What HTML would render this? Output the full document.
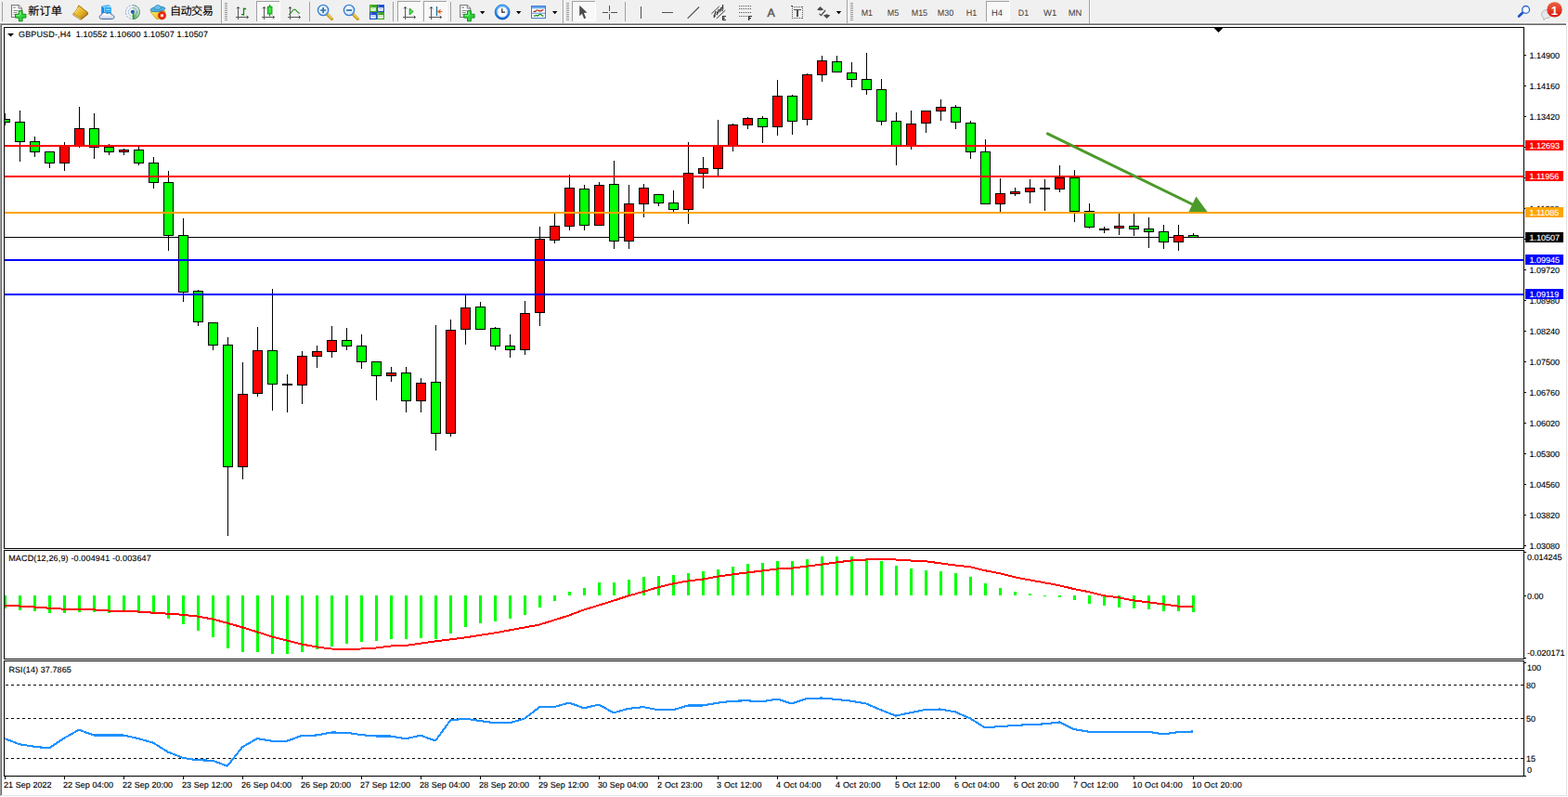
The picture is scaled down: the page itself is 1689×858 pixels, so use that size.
<!DOCTYPE html>
<html><head><meta charset="utf-8"><title>GBPUSD-,H4</title>
<style>html,body{margin:0;padding:0;background:#fff;overflow:hidden}body{width:1689px;height:858px;font-family:"Liberation Sans",sans-serif}svg{display:block}</style>
</head><body>
<svg width="1689" height="858" viewBox="0 0 1689 858" font-family="Liberation Sans, sans-serif" shape-rendering="crispEdges" text-rendering="geometricPrecision">
<rect x="0" y="0" width="1689" height="858" fill="#fff"/>
<rect x="0" y="0" width="1689" height="25" fill="#f0f0f0"/>
<rect x="0" y="24" width="1689" height="1" fill="#fafafa"/>
<rect x="0" y="25" width="1687" height="1" fill="#a0a0a0"/>
<rect x="1" y="26" width="1686" height="1" fill="#696969"/>
<rect x="0" y="26" width="1" height="831" fill="#a0a0a0"/>
<rect x="1" y="27" width="1" height="829" fill="#696969"/>
<rect x="1687" y="27" width="1" height="830" fill="#e3e3e3"/>
<rect x="2" y="856" width="1686" height="1" fill="#e3e3e3"/>
<rect x="4" y="29" width="1638" height="1" fill="#000"/>
<rect x="4" y="590" width="1638" height="1" fill="#000"/>
<rect x="4" y="29" width="1" height="562" fill="#000"/>
<rect x="1641" y="29" width="1" height="562" fill="#000"/>
<rect x="4" y="592" width="1638" height="1" fill="#000"/>
<rect x="4" y="709" width="1638" height="1" fill="#000"/>
<rect x="4" y="592" width="1" height="118" fill="#000"/>
<rect x="1641" y="592" width="1" height="118" fill="#000"/>
<rect x="4" y="711" width="1638" height="1" fill="#000"/>
<rect x="4" y="835" width="1638" height="1" fill="#000"/>
<rect x="4" y="711" width="1" height="125" fill="#000"/>
<rect x="1641" y="711" width="1" height="125" fill="#000"/>
<polygon points="1307.5,30 1317.5,30 1312.5,35" fill="#000" shape-rendering="auto"/>
<rect x="5" y="255" width="1636" height="1" fill="#000"/>
<rect x="5" y="122" width="1" height="13" fill="#000"/>
<rect x="5" y="128" width="6" height="4" fill="#000"/>
<rect x="5" y="129" width="5" height="2" fill="#00ff00"/>
<rect x="21" y="119" width="1" height="55" fill="#000"/>
<rect x="16" y="131" width="11" height="22" fill="#000"/>
<rect x="17" y="132" width="9" height="20" fill="#00ff00"/>
<rect x="37" y="147" width="1" height="22" fill="#000"/>
<rect x="32" y="152" width="11" height="12" fill="#000"/>
<rect x="33" y="153" width="9" height="10" fill="#00ff00"/>
<rect x="53" y="163" width="1" height="18" fill="#000"/>
<rect x="48" y="163" width="11" height="13" fill="#000"/>
<rect x="49" y="164" width="9" height="11" fill="#00ff00"/>
<rect x="69" y="153" width="1" height="31" fill="#000"/>
<rect x="64" y="157" width="11" height="19" fill="#000"/>
<rect x="65" y="158" width="9" height="17" fill="#ff0000"/>
<rect x="85" y="115" width="1" height="44" fill="#000"/>
<rect x="80" y="138" width="11" height="20" fill="#000"/>
<rect x="81" y="139" width="9" height="18" fill="#ff0000"/>
<rect x="101" y="122" width="1" height="49" fill="#000"/>
<rect x="96" y="138" width="11" height="21" fill="#000"/>
<rect x="97" y="139" width="9" height="19" fill="#00ff00"/>
<rect x="117" y="155" width="1" height="12" fill="#000"/>
<rect x="112" y="158" width="11" height="6" fill="#000"/>
<rect x="113" y="159" width="9" height="4" fill="#00ff00"/>
<rect x="133" y="160" width="1" height="7" fill="#000"/>
<rect x="128" y="161" width="11" height="3" fill="#000"/>
<rect x="129" y="162" width="9" height="1" fill="#ff0000"/>
<rect x="149" y="158" width="1" height="20" fill="#000"/>
<rect x="144" y="161" width="11" height="15" fill="#000"/>
<rect x="145" y="162" width="9" height="13" fill="#00ff00"/>
<rect x="165" y="169" width="1" height="34" fill="#000"/>
<rect x="160" y="175" width="11" height="22" fill="#000"/>
<rect x="161" y="176" width="9" height="20" fill="#00ff00"/>
<rect x="181" y="184" width="1" height="86" fill="#000"/>
<rect x="176" y="196" width="11" height="58" fill="#000"/>
<rect x="177" y="197" width="9" height="56" fill="#00ff00"/>
<rect x="197" y="235" width="1" height="90" fill="#000"/>
<rect x="192" y="253" width="11" height="62" fill="#000"/>
<rect x="193" y="254" width="9" height="60" fill="#00ff00"/>
<rect x="213" y="312" width="1" height="39" fill="#000"/>
<rect x="208" y="313" width="11" height="34" fill="#000"/>
<rect x="209" y="314" width="9" height="32" fill="#00ff00"/>
<rect x="229" y="347" width="1" height="30" fill="#000"/>
<rect x="224" y="347" width="11" height="25" fill="#000"/>
<rect x="225" y="348" width="9" height="23" fill="#00ff00"/>
<rect x="245" y="363" width="1" height="214" fill="#000"/>
<rect x="240" y="371" width="11" height="132" fill="#000"/>
<rect x="241" y="372" width="9" height="130" fill="#00ff00"/>
<rect x="261" y="390" width="1" height="126" fill="#000"/>
<rect x="256" y="424" width="11" height="79" fill="#000"/>
<rect x="257" y="425" width="9" height="77" fill="#ff0000"/>
<rect x="277" y="352" width="1" height="75" fill="#000"/>
<rect x="272" y="377" width="11" height="47" fill="#000"/>
<rect x="273" y="378" width="9" height="45" fill="#ff0000"/>
<rect x="293" y="311" width="1" height="131" fill="#000"/>
<rect x="288" y="377" width="11" height="37" fill="#000"/>
<rect x="289" y="378" width="9" height="35" fill="#00ff00"/>
<rect x="309" y="403" width="1" height="41" fill="#000"/>
<rect x="304" y="413" width="11" height="2" fill="#000"/>
<rect x="325" y="378" width="1" height="57" fill="#000"/>
<rect x="320" y="383" width="11" height="32" fill="#000"/>
<rect x="321" y="384" width="9" height="30" fill="#ff0000"/>
<rect x="341" y="372" width="1" height="24" fill="#000"/>
<rect x="336" y="378" width="11" height="6" fill="#000"/>
<rect x="337" y="379" width="9" height="4" fill="#ff0000"/>
<rect x="357" y="351" width="1" height="34" fill="#000"/>
<rect x="352" y="366" width="11" height="13" fill="#000"/>
<rect x="353" y="367" width="9" height="11" fill="#ff0000"/>
<rect x="373" y="353" width="1" height="24" fill="#000"/>
<rect x="368" y="366" width="11" height="7" fill="#000"/>
<rect x="369" y="367" width="9" height="5" fill="#00ff00"/>
<rect x="389" y="360" width="1" height="37" fill="#000"/>
<rect x="384" y="372" width="11" height="18" fill="#000"/>
<rect x="385" y="373" width="9" height="16" fill="#00ff00"/>
<rect x="405" y="389" width="1" height="42" fill="#000"/>
<rect x="400" y="389" width="11" height="16" fill="#000"/>
<rect x="401" y="390" width="9" height="14" fill="#00ff00"/>
<rect x="421" y="395" width="1" height="16" fill="#000"/>
<rect x="416" y="401" width="11" height="4" fill="#000"/>
<rect x="417" y="402" width="9" height="2" fill="#ff0000"/>
<rect x="437" y="395" width="1" height="49" fill="#000"/>
<rect x="432" y="401" width="11" height="31" fill="#000"/>
<rect x="433" y="402" width="9" height="29" fill="#00ff00"/>
<rect x="453" y="407" width="1" height="37" fill="#000"/>
<rect x="448" y="412" width="11" height="20" fill="#000"/>
<rect x="449" y="413" width="9" height="18" fill="#ff0000"/>
<rect x="469" y="350" width="1" height="135" fill="#000"/>
<rect x="464" y="411" width="11" height="56" fill="#000"/>
<rect x="465" y="412" width="9" height="54" fill="#00ff00"/>
<rect x="485" y="344" width="1" height="126" fill="#000"/>
<rect x="480" y="355" width="11" height="112" fill="#000"/>
<rect x="481" y="356" width="9" height="110" fill="#ff0000"/>
<rect x="501" y="318" width="1" height="53" fill="#000"/>
<rect x="496" y="331" width="11" height="24" fill="#000"/>
<rect x="497" y="332" width="9" height="22" fill="#ff0000"/>
<rect x="517" y="325" width="1" height="30" fill="#000"/>
<rect x="512" y="330" width="11" height="25" fill="#000"/>
<rect x="513" y="331" width="9" height="23" fill="#00ff00"/>
<rect x="533" y="352" width="1" height="25" fill="#000"/>
<rect x="528" y="353" width="11" height="20" fill="#000"/>
<rect x="529" y="354" width="9" height="18" fill="#00ff00"/>
<rect x="549" y="360" width="1" height="25" fill="#000"/>
<rect x="544" y="372" width="11" height="5" fill="#000"/>
<rect x="545" y="373" width="9" height="3" fill="#00ff00"/>
<rect x="565" y="324" width="1" height="58" fill="#000"/>
<rect x="560" y="337" width="11" height="40" fill="#000"/>
<rect x="561" y="338" width="9" height="38" fill="#ff0000"/>
<rect x="581" y="244" width="1" height="107" fill="#000"/>
<rect x="576" y="257" width="11" height="80" fill="#000"/>
<rect x="577" y="258" width="9" height="78" fill="#ff0000"/>
<rect x="597" y="230" width="1" height="32" fill="#000"/>
<rect x="592" y="243" width="11" height="16" fill="#000"/>
<rect x="593" y="244" width="9" height="14" fill="#ff0000"/>
<rect x="613" y="188" width="1" height="60" fill="#000"/>
<rect x="608" y="202" width="11" height="42" fill="#000"/>
<rect x="609" y="203" width="9" height="40" fill="#ff0000"/>
<rect x="629" y="199" width="1" height="49" fill="#000"/>
<rect x="624" y="203" width="11" height="40" fill="#000"/>
<rect x="625" y="204" width="9" height="38" fill="#00ff00"/>
<rect x="645" y="196" width="1" height="47" fill="#000"/>
<rect x="640" y="199" width="11" height="44" fill="#000"/>
<rect x="641" y="200" width="9" height="42" fill="#ff0000"/>
<rect x="661" y="173" width="1" height="95" fill="#000"/>
<rect x="656" y="198" width="11" height="62" fill="#000"/>
<rect x="657" y="199" width="9" height="60" fill="#00ff00"/>
<rect x="677" y="199" width="1" height="69" fill="#000"/>
<rect x="672" y="219" width="11" height="41" fill="#000"/>
<rect x="673" y="220" width="9" height="39" fill="#ff0000"/>
<rect x="693" y="198" width="1" height="36" fill="#000"/>
<rect x="688" y="202" width="11" height="18" fill="#000"/>
<rect x="689" y="203" width="9" height="16" fill="#ff0000"/>
<rect x="709" y="209" width="1" height="13" fill="#000"/>
<rect x="704" y="209" width="11" height="10" fill="#000"/>
<rect x="705" y="210" width="9" height="8" fill="#00ff00"/>
<rect x="725" y="205" width="1" height="23" fill="#000"/>
<rect x="720" y="218" width="11" height="8" fill="#000"/>
<rect x="721" y="219" width="9" height="6" fill="#00ff00"/>
<rect x="741" y="153" width="1" height="88" fill="#000"/>
<rect x="736" y="186" width="11" height="40" fill="#000"/>
<rect x="737" y="187" width="9" height="38" fill="#ff0000"/>
<rect x="757" y="169" width="1" height="34" fill="#000"/>
<rect x="752" y="181" width="11" height="6" fill="#000"/>
<rect x="753" y="182" width="9" height="4" fill="#ff0000"/>
<rect x="773" y="129" width="1" height="60" fill="#000"/>
<rect x="768" y="157" width="11" height="25" fill="#000"/>
<rect x="769" y="158" width="9" height="23" fill="#ff0000"/>
<rect x="789" y="133" width="1" height="30" fill="#000"/>
<rect x="784" y="134" width="11" height="24" fill="#000"/>
<rect x="785" y="135" width="9" height="22" fill="#ff0000"/>
<rect x="805" y="126" width="1" height="13" fill="#000"/>
<rect x="800" y="127" width="11" height="8" fill="#000"/>
<rect x="801" y="128" width="9" height="6" fill="#ff0000"/>
<rect x="821" y="125" width="1" height="29" fill="#000"/>
<rect x="816" y="127" width="11" height="10" fill="#000"/>
<rect x="817" y="128" width="9" height="8" fill="#00ff00"/>
<rect x="837" y="86" width="1" height="60" fill="#000"/>
<rect x="832" y="103" width="11" height="34" fill="#000"/>
<rect x="833" y="104" width="9" height="32" fill="#ff0000"/>
<rect x="853" y="102" width="1" height="43" fill="#000"/>
<rect x="848" y="103" width="11" height="28" fill="#000"/>
<rect x="849" y="104" width="9" height="26" fill="#00ff00"/>
<rect x="869" y="79" width="1" height="56" fill="#000"/>
<rect x="864" y="80" width="11" height="49" fill="#000"/>
<rect x="865" y="81" width="9" height="47" fill="#ff0000"/>
<rect x="885" y="60" width="1" height="28" fill="#000"/>
<rect x="880" y="65" width="11" height="16" fill="#000"/>
<rect x="881" y="66" width="9" height="14" fill="#ff0000"/>
<rect x="901" y="60" width="1" height="18" fill="#000"/>
<rect x="896" y="66" width="11" height="12" fill="#000"/>
<rect x="897" y="67" width="9" height="10" fill="#00ff00"/>
<rect x="917" y="67" width="1" height="27" fill="#000"/>
<rect x="912" y="78" width="11" height="8" fill="#000"/>
<rect x="913" y="79" width="9" height="6" fill="#00ff00"/>
<rect x="933" y="57" width="1" height="45" fill="#000"/>
<rect x="928" y="85" width="11" height="12" fill="#000"/>
<rect x="929" y="86" width="9" height="10" fill="#00ff00"/>
<rect x="949" y="85" width="1" height="50" fill="#000"/>
<rect x="944" y="96" width="11" height="35" fill="#000"/>
<rect x="945" y="97" width="9" height="33" fill="#00ff00"/>
<rect x="965" y="121" width="1" height="57" fill="#000"/>
<rect x="960" y="130" width="11" height="28" fill="#000"/>
<rect x="961" y="131" width="9" height="26" fill="#00ff00"/>
<rect x="981" y="119" width="1" height="42" fill="#000"/>
<rect x="976" y="133" width="11" height="25" fill="#000"/>
<rect x="977" y="134" width="9" height="23" fill="#ff0000"/>
<rect x="997" y="119" width="1" height="24" fill="#000"/>
<rect x="992" y="119" width="11" height="14" fill="#000"/>
<rect x="993" y="120" width="9" height="12" fill="#ff0000"/>
<rect x="1013" y="107" width="1" height="23" fill="#000"/>
<rect x="1008" y="115" width="11" height="5" fill="#000"/>
<rect x="1009" y="116" width="9" height="3" fill="#ff0000"/>
<rect x="1029" y="113" width="1" height="26" fill="#000"/>
<rect x="1024" y="115" width="11" height="17" fill="#000"/>
<rect x="1025" y="116" width="9" height="15" fill="#00ff00"/>
<rect x="1045" y="130" width="1" height="41" fill="#000"/>
<rect x="1040" y="132" width="11" height="32" fill="#000"/>
<rect x="1041" y="133" width="9" height="30" fill="#00ff00"/>
<rect x="1061" y="150" width="1" height="70" fill="#000"/>
<rect x="1056" y="163" width="11" height="57" fill="#000"/>
<rect x="1057" y="164" width="9" height="55" fill="#00ff00"/>
<rect x="1077" y="192" width="1" height="36" fill="#000"/>
<rect x="1072" y="208" width="11" height="12" fill="#000"/>
<rect x="1073" y="209" width="9" height="10" fill="#ff0000"/>
<rect x="1093" y="202" width="1" height="9" fill="#000"/>
<rect x="1088" y="206" width="11" height="3" fill="#000"/>
<rect x="1089" y="207" width="9" height="1" fill="#ff0000"/>
<rect x="1109" y="193" width="1" height="26" fill="#000"/>
<rect x="1104" y="202" width="11" height="5" fill="#000"/>
<rect x="1105" y="203" width="9" height="3" fill="#ff0000"/>
<rect x="1125" y="193" width="1" height="34" fill="#000"/>
<rect x="1120" y="202" width="11" height="2" fill="#000"/>
<rect x="1141" y="178" width="1" height="29" fill="#000"/>
<rect x="1136" y="191" width="11" height="13" fill="#000"/>
<rect x="1137" y="192" width="9" height="11" fill="#ff0000"/>
<rect x="1157" y="183" width="1" height="56" fill="#000"/>
<rect x="1152" y="191" width="11" height="37" fill="#000"/>
<rect x="1153" y="192" width="9" height="35" fill="#00ff00"/>
<rect x="1173" y="219" width="1" height="27" fill="#000"/>
<rect x="1168" y="227" width="11" height="18" fill="#000"/>
<rect x="1169" y="228" width="9" height="16" fill="#00ff00"/>
<rect x="1189" y="244" width="1" height="7" fill="#000"/>
<rect x="1184" y="246" width="11" height="2" fill="#000"/>
<rect x="1205" y="230" width="1" height="23" fill="#000"/>
<rect x="1200" y="243" width="11" height="3" fill="#000"/>
<rect x="1201" y="244" width="9" height="1" fill="#ff0000"/>
<rect x="1221" y="230" width="1" height="24" fill="#000"/>
<rect x="1216" y="243" width="11" height="4" fill="#000"/>
<rect x="1217" y="244" width="9" height="2" fill="#00ff00"/>
<rect x="1237" y="234" width="1" height="33" fill="#000"/>
<rect x="1232" y="246" width="11" height="4" fill="#000"/>
<rect x="1233" y="247" width="9" height="2" fill="#00ff00"/>
<rect x="1253" y="242" width="1" height="26" fill="#000"/>
<rect x="1248" y="249" width="11" height="12" fill="#000"/>
<rect x="1249" y="250" width="9" height="10" fill="#00ff00"/>
<rect x="1269" y="242" width="1" height="28" fill="#000"/>
<rect x="1264" y="253" width="11" height="8" fill="#000"/>
<rect x="1265" y="254" width="9" height="6" fill="#ff0000"/>
<rect x="1285" y="251" width="1" height="5" fill="#000"/>
<rect x="1280" y="253" width="11" height="3" fill="#000"/>
<rect x="1281" y="254" width="9" height="1" fill="#00ff00"/>
<rect x="5" y="156" width="1636" height="2" fill="#ff0000"/>
<rect x="5" y="189" width="1636" height="2" fill="#ff0000"/>
<g shape-rendering="auto"><line x1="1127.3" y1="143.4" x2="1285" y2="220.2" stroke="#4c9a2a" stroke-width="2.9"/><polygon points="1288.4,211.6 1280.4,228.2 1300.7,228.2" fill="#4c9a2a"/></g>
<rect x="5" y="228" width="1636" height="2" fill="#ffa500"/>
<rect x="5" y="279" width="1636" height="2" fill="#0000ff"/>
<rect x="5" y="316" width="1636" height="2" fill="#0000ff"/>
<rect x="4" y="641" width="3" height="14" fill="#00ff00"/>
<rect x="20" y="641" width="3" height="16" fill="#00ff00"/>
<rect x="36" y="641" width="3" height="17" fill="#00ff00"/>
<rect x="52" y="641" width="3" height="19" fill="#00ff00"/>
<rect x="68" y="641" width="3" height="19" fill="#00ff00"/>
<rect x="84" y="641" width="3" height="18" fill="#00ff00"/>
<rect x="100" y="641" width="3" height="18" fill="#00ff00"/>
<rect x="116" y="641" width="3" height="19" fill="#00ff00"/>
<rect x="132" y="641" width="3" height="18" fill="#00ff00"/>
<rect x="148" y="641" width="3" height="19" fill="#00ff00"/>
<rect x="164" y="641" width="3" height="20" fill="#00ff00"/>
<rect x="180" y="641" width="3" height="25" fill="#00ff00"/>
<rect x="196" y="641" width="3" height="31" fill="#00ff00"/>
<rect x="212" y="641" width="3" height="38" fill="#00ff00"/>
<rect x="228" y="641" width="3" height="45" fill="#00ff00"/>
<rect x="244" y="641" width="3" height="57" fill="#00ff00"/>
<rect x="260" y="641" width="3" height="61" fill="#00ff00"/>
<rect x="276" y="641" width="3" height="61" fill="#00ff00"/>
<rect x="292" y="641" width="3" height="63" fill="#00ff00"/>
<rect x="308" y="641" width="3" height="63" fill="#00ff00"/>
<rect x="324" y="641" width="3" height="61" fill="#00ff00"/>
<rect x="340" y="641" width="3" height="58" fill="#00ff00"/>
<rect x="356" y="641" width="3" height="55" fill="#00ff00"/>
<rect x="372" y="641" width="3" height="52" fill="#00ff00"/>
<rect x="388" y="641" width="3" height="50" fill="#00ff00"/>
<rect x="404" y="641" width="3" height="49" fill="#00ff00"/>
<rect x="420" y="641" width="3" height="47" fill="#00ff00"/>
<rect x="436" y="641" width="3" height="47" fill="#00ff00"/>
<rect x="452" y="641" width="3" height="46" fill="#00ff00"/>
<rect x="468" y="641" width="3" height="47" fill="#00ff00"/>
<rect x="484" y="641" width="3" height="41" fill="#00ff00"/>
<rect x="500" y="641" width="3" height="34" fill="#00ff00"/>
<rect x="516" y="641" width="3" height="30" fill="#00ff00"/>
<rect x="532" y="641" width="3" height="28" fill="#00ff00"/>
<rect x="548" y="641" width="3" height="25" fill="#00ff00"/>
<rect x="564" y="641" width="3" height="21" fill="#00ff00"/>
<rect x="580" y="641" width="3" height="13" fill="#00ff00"/>
<rect x="596" y="641" width="3" height="6" fill="#00ff00"/>
<rect x="612" y="637" width="3" height="4" fill="#00ff00"/>
<rect x="628" y="633" width="3" height="8" fill="#00ff00"/>
<rect x="644" y="627" width="3" height="14" fill="#00ff00"/>
<rect x="660" y="627" width="3" height="14" fill="#00ff00"/>
<rect x="676" y="624" width="3" height="17" fill="#00ff00"/>
<rect x="692" y="621" width="3" height="20" fill="#00ff00"/>
<rect x="708" y="620" width="3" height="21" fill="#00ff00"/>
<rect x="724" y="619" width="3" height="22" fill="#00ff00"/>
<rect x="740" y="617" width="3" height="24" fill="#00ff00"/>
<rect x="756" y="615" width="3" height="26" fill="#00ff00"/>
<rect x="772" y="613" width="3" height="28" fill="#00ff00"/>
<rect x="788" y="610" width="3" height="31" fill="#00ff00"/>
<rect x="804" y="607" width="3" height="34" fill="#00ff00"/>
<rect x="820" y="606" width="3" height="35" fill="#00ff00"/>
<rect x="836" y="604" width="3" height="37" fill="#00ff00"/>
<rect x="852" y="604" width="3" height="37" fill="#00ff00"/>
<rect x="868" y="602" width="3" height="39" fill="#00ff00"/>
<rect x="884" y="599" width="3" height="42" fill="#00ff00"/>
<rect x="900" y="599" width="3" height="42" fill="#00ff00"/>
<rect x="916" y="599" width="3" height="42" fill="#00ff00"/>
<rect x="932" y="601" width="3" height="40" fill="#00ff00"/>
<rect x="948" y="604" width="3" height="37" fill="#00ff00"/>
<rect x="964" y="609" width="3" height="32" fill="#00ff00"/>
<rect x="980" y="612" width="3" height="29" fill="#00ff00"/>
<rect x="996" y="614" width="3" height="27" fill="#00ff00"/>
<rect x="1012" y="615" width="3" height="26" fill="#00ff00"/>
<rect x="1028" y="617" width="3" height="24" fill="#00ff00"/>
<rect x="1044" y="621" width="3" height="20" fill="#00ff00"/>
<rect x="1060" y="628" width="3" height="13" fill="#00ff00"/>
<rect x="1076" y="633" width="3" height="8" fill="#00ff00"/>
<rect x="1092" y="637" width="3" height="4" fill="#00ff00"/>
<rect x="1108" y="639" width="3" height="2" fill="#00ff00"/>
<rect x="1124" y="641" width="3" height="1" fill="#00ff00"/>
<rect x="1140" y="641" width="3" height="2" fill="#00ff00"/>
<rect x="1156" y="641" width="3" height="5" fill="#00ff00"/>
<rect x="1172" y="641" width="3" height="9" fill="#00ff00"/>
<rect x="1188" y="641" width="3" height="11" fill="#00ff00"/>
<rect x="1204" y="641" width="3" height="13" fill="#00ff00"/>
<rect x="1220" y="641" width="3" height="14" fill="#00ff00"/>
<rect x="1236" y="641" width="3" height="15" fill="#00ff00"/>
<rect x="1252" y="641" width="3" height="17" fill="#00ff00"/>
<rect x="1268" y="641" width="3" height="17" fill="#00ff00"/>
<rect x="1284" y="641" width="3" height="18" fill="#00ff00"/>
<polyline points="5,652.0 21,652.5 37,653.5 53,654.7 69,655.7 85,656.0 101,656.4 117,657.5 133,658.0 149,658.5 165,659.7 181,660.7 197,661.8 213,663.6 229,666.5 245,670.8 261,675.3 277,680.3 293,685.5 309,689.5 325,693.5 341,696.4 357,698.5 373,698.9 389,698.5 405,697.5 421,695.5 437,694.9 453,692.6 469,690.4 485,688.4 501,686.4 517,683.8 533,681.4 549,678.4 565,675.5 581,672.5 597,667.5 613,662.5 629,656.5 645,651.6 661,646.6 677,641.4 693,636.9 709,632.2 725,628.4 741,625.5 757,623.6 773,620.6 789,618.4 805,616.4 821,614.5 837,612.5 853,611.6 869,609.6 885,607.6 901,605.4 917,603.5 933,602.5 949,602.1 965,602.5 981,603.5 997,604.2 1013,606.4 1029,608.5 1045,610.3 1061,614.2 1077,617.3 1093,621.3 1109,624.4 1125,627.3 1141,630.2 1157,634.1 1173,637.2 1189,641.2 1205,643.3 1221,646.4 1237,648.3 1253,650.4 1269,652.6 1285,652.7" fill="none" stroke="#ff0000" stroke-width="2" stroke-linejoin="bevel"/>
<line x1="6" y1="737.5" x2="1641" y2="737.5" stroke="#000" stroke-width="1" stroke-dasharray="3 3"/>
<line x1="6" y1="773.5" x2="1641" y2="773.5" stroke="#000" stroke-width="1" stroke-dasharray="3 3"/>
<line x1="6" y1="816.5" x2="1641" y2="816.5" stroke="#000" stroke-width="1" stroke-dasharray="3 3"/>
<polyline points="5,795.1 21,801.2 37,803.8 53,805.4 69,794.7 85,785.7 101,791.5 117,791.5 133,791.5 149,795.1 165,799.6 181,809.6 197,815.9 213,818.3 229,818.7 245,824.7 261,804.2 277,795.1 293,797.8 309,797.8 325,791.9 341,791.5 357,788.5 373,788.7 389,791.1 405,792.5 421,792.5 437,795.3 453,791.7 469,797.5 485,775.6 501,773.6 517,776.0 533,778.2 549,778.2 565,773.6 581,761.3 597,761.1 613,756.5 629,762.3 645,758.6 661,767.3 677,762.9 693,761.1 709,764.3 725,764.3 741,759.5 757,759.5 773,756.7 789,754.7 805,754.3 821,755.3 837,752.5 853,757.5 869,751.9 885,751.5 901,752.9 917,754.7 933,757.5 949,764.3 965,770.6 981,767.2 997,763.9 1013,763.5 1029,766.4 1045,773.4 1061,783.3 1077,782.1 1093,781.0 1109,780.0 1125,779.4 1141,777.4 1157,785.1 1173,787.7 1189,787.7 1205,787.7 1221,787.7 1237,787.7 1253,790.5 1269,788.1 1285,787.5" fill="none" stroke="#1e90ff" stroke-width="2.1" stroke-linejoin="bevel"/>
<rect x="4" y="29" width="1" height="562" fill="#000"/>
<rect x="1641" y="29" width="1" height="562" fill="#000"/>
<rect x="1641" y="592" width="1" height="118" fill="#000"/>
<rect x="1641" y="711" width="1" height="125" fill="#000"/>
<rect x="4" y="592" width="1" height="118" fill="#000"/>
<rect x="4" y="711" width="1" height="125" fill="#000"/>
<rect x="1642" y="59" width="2" height="1" fill="#000"/>
<text x="1647.6" y="62.65" font-size="9" fill="#000" stroke="#000" stroke-width="0.13" text-anchor="start">1.14900</text>
<rect x="1642" y="92" width="2" height="1" fill="#000"/>
<text x="1647.6" y="95.65" font-size="9" fill="#000" stroke="#000" stroke-width="0.13" text-anchor="start">1.14160</text>
<rect x="1642" y="125" width="2" height="1" fill="#000"/>
<text x="1647.6" y="128.65" font-size="9" fill="#000" stroke="#000" stroke-width="0.13" text-anchor="start">1.13420</text>
<rect x="1642" y="158" width="2" height="1" fill="#000"/>
<rect x="1642" y="191" width="2" height="1" fill="#000"/>
<rect x="1642" y="224" width="2" height="1" fill="#000"/>
<text x="1647.6" y="227.65" font-size="9" fill="#000" stroke="#000" stroke-width="0.13" text-anchor="start">1.11200</text>
<rect x="1642" y="257" width="2" height="1" fill="#000"/>
<rect x="1642" y="290" width="2" height="1" fill="#000"/>
<text x="1647.6" y="293.65" font-size="9" fill="#000" stroke="#000" stroke-width="0.13" text-anchor="start">1.09720</text>
<rect x="1642" y="323" width="2" height="1" fill="#000"/>
<text x="1647.6" y="326.65" font-size="9" fill="#000" stroke="#000" stroke-width="0.13" text-anchor="start">1.08980</text>
<rect x="1642" y="356" width="2" height="1" fill="#000"/>
<text x="1647.6" y="359.65" font-size="9" fill="#000" stroke="#000" stroke-width="0.13" text-anchor="start">1.08240</text>
<rect x="1642" y="389" width="2" height="1" fill="#000"/>
<text x="1647.6" y="392.65" font-size="9" fill="#000" stroke="#000" stroke-width="0.13" text-anchor="start">1.07500</text>
<rect x="1642" y="422" width="2" height="1" fill="#000"/>
<text x="1647.6" y="425.65" font-size="9" fill="#000" stroke="#000" stroke-width="0.13" text-anchor="start">1.06760</text>
<rect x="1642" y="455" width="2" height="1" fill="#000"/>
<text x="1647.6" y="458.65" font-size="9" fill="#000" stroke="#000" stroke-width="0.13" text-anchor="start">1.06020</text>
<rect x="1642" y="488" width="2" height="1" fill="#000"/>
<text x="1647.6" y="491.65" font-size="9" fill="#000" stroke="#000" stroke-width="0.13" text-anchor="start">1.05300</text>
<rect x="1642" y="521" width="2" height="1" fill="#000"/>
<text x="1647.6" y="524.65" font-size="9" fill="#000" stroke="#000" stroke-width="0.13" text-anchor="start">1.04560</text>
<rect x="1642" y="554" width="2" height="1" fill="#000"/>
<text x="1647.6" y="557.65" font-size="9" fill="#000" stroke="#000" stroke-width="0.13" text-anchor="start">1.03820</text>
<rect x="1642" y="587" width="2" height="1" fill="#000"/>
<text x="1647.6" y="590.65" font-size="9" fill="#000" stroke="#000" stroke-width="0.13" text-anchor="start">1.03080</text>
<rect x="1642" y="594" width="2" height="1" fill="#000"/>
<rect x="1642" y="641" width="2" height="1" fill="#000"/>
<rect x="1642" y="708" width="2" height="1" fill="#000"/>
<rect x="1642" y="713" width="2" height="1" fill="#000"/>
<rect x="1642" y="835" width="2" height="1" fill="#000"/>
<text x="1645" y="602.65" font-size="9" fill="#000" stroke="#000" stroke-width="0.13" text-anchor="start">0.014245</text>
<text x="1645" y="644.65" font-size="9" fill="#000" stroke="#000" stroke-width="0.13" text-anchor="start">0.00</text>
<text x="1645" y="705.65" font-size="9" fill="#000" stroke="#000" stroke-width="0.13" text-anchor="start">-0.020171</text>
<text x="1645" y="721.65" font-size="9" fill="#000" stroke="#000" stroke-width="0.13" text-anchor="start">100</text>
<text x="1644" y="740.65" font-size="9" fill="#000" stroke="#000" stroke-width="0.13" text-anchor="start">80</text>
<text x="1644" y="776.65" font-size="9" fill="#000" stroke="#000" stroke-width="0.13" text-anchor="start">50</text>
<text x="1644" y="819.65" font-size="9" fill="#000" stroke="#000" stroke-width="0.13" text-anchor="start">15</text>
<text x="1645" y="831.65" font-size="9" fill="#000" stroke="#000" stroke-width="0.13" text-anchor="start">0</text>
<rect x="1643" y="151" width="41" height="11" fill="#ff0000"/>
<text x="1647.4" y="159.65" font-size="9" fill="#fff" stroke="#fff" stroke-width="0.12" text-anchor="start">1.12693</text>
<rect x="1643" y="184" width="41" height="11" fill="#ff0000"/>
<text x="1647.4" y="192.65" font-size="9" fill="#fff" stroke="#fff" stroke-width="0.12" text-anchor="start">1.11956</text>
<rect x="1643" y="223" width="41" height="11" fill="#ffa500"/>
<text x="1647.4" y="231.65" font-size="9" fill="#fff" stroke="#fff" stroke-width="0.12" text-anchor="start">1.11085</text>
<rect x="1643" y="250" width="41" height="11" fill="#000"/>
<text x="1647.4" y="258.65" font-size="9" fill="#fff" stroke="#fff" stroke-width="0.12" text-anchor="start">1.10507</text>
<rect x="1643" y="274" width="41" height="11" fill="#0000ff"/>
<text x="1647.4" y="282.65" font-size="9" fill="#fff" stroke="#fff" stroke-width="0.12" text-anchor="start">1.09945</text>
<rect x="1643" y="311" width="41" height="11" fill="#0000ff"/>
<text x="1647.4" y="319.65" font-size="9" fill="#fff" stroke="#fff" stroke-width="0.12" text-anchor="start">1.09119</text>
<rect x="5" y="836" width="1" height="3" fill="#000"/>
<text x="4" y="847.65" font-size="9" fill="#000" stroke="#000" stroke-width="0.13" text-anchor="start" letter-spacing="0.05">21 Sep 2022</text>
<rect x="69" y="836" width="1" height="3" fill="#000"/>
<text x="68" y="847.65" font-size="9" fill="#000" stroke="#000" stroke-width="0.13" text-anchor="start" letter-spacing="0.05">22 Sep 04:00</text>
<rect x="133" y="836" width="1" height="3" fill="#000"/>
<text x="132" y="847.65" font-size="9" fill="#000" stroke="#000" stroke-width="0.13" text-anchor="start" letter-spacing="0.05">22 Sep 20:00</text>
<rect x="197" y="836" width="1" height="3" fill="#000"/>
<text x="196" y="847.65" font-size="9" fill="#000" stroke="#000" stroke-width="0.13" text-anchor="start" letter-spacing="0.05">23 Sep 12:00</text>
<rect x="261" y="836" width="1" height="3" fill="#000"/>
<text x="260" y="847.65" font-size="9" fill="#000" stroke="#000" stroke-width="0.13" text-anchor="start" letter-spacing="0.05">26 Sep 04:00</text>
<rect x="325" y="836" width="1" height="3" fill="#000"/>
<text x="324" y="847.65" font-size="9" fill="#000" stroke="#000" stroke-width="0.13" text-anchor="start" letter-spacing="0.05">26 Sep 20:00</text>
<rect x="389" y="836" width="1" height="3" fill="#000"/>
<text x="388" y="847.65" font-size="9" fill="#000" stroke="#000" stroke-width="0.13" text-anchor="start" letter-spacing="0.05">27 Sep 12:00</text>
<rect x="453" y="836" width="1" height="3" fill="#000"/>
<text x="452" y="847.65" font-size="9" fill="#000" stroke="#000" stroke-width="0.13" text-anchor="start" letter-spacing="0.05">28 Sep 04:00</text>
<rect x="517" y="836" width="1" height="3" fill="#000"/>
<text x="516" y="847.65" font-size="9" fill="#000" stroke="#000" stroke-width="0.13" text-anchor="start" letter-spacing="0.05">28 Sep 20:00</text>
<rect x="581" y="836" width="1" height="3" fill="#000"/>
<text x="580" y="847.65" font-size="9" fill="#000" stroke="#000" stroke-width="0.13" text-anchor="start" letter-spacing="0.05">29 Sep 12:00</text>
<rect x="645" y="836" width="1" height="3" fill="#000"/>
<text x="644" y="847.65" font-size="9" fill="#000" stroke="#000" stroke-width="0.13" text-anchor="start" letter-spacing="0.05">30 Sep 04:00</text>
<rect x="709" y="836" width="1" height="3" fill="#000"/>
<text x="708" y="847.65" font-size="9" fill="#000" stroke="#000" stroke-width="0.13" text-anchor="start" letter-spacing="0.2">2 Oct 23:00</text>
<rect x="773" y="836" width="1" height="3" fill="#000"/>
<text x="772" y="847.65" font-size="9" fill="#000" stroke="#000" stroke-width="0.13" text-anchor="start" letter-spacing="0.2">3 Oct 12:00</text>
<rect x="837" y="836" width="1" height="3" fill="#000"/>
<text x="836" y="847.65" font-size="9" fill="#000" stroke="#000" stroke-width="0.13" text-anchor="start" letter-spacing="0.2">4 Oct 04:00</text>
<rect x="901" y="836" width="1" height="3" fill="#000"/>
<text x="900" y="847.65" font-size="9" fill="#000" stroke="#000" stroke-width="0.13" text-anchor="start" letter-spacing="0.2">4 Oct 20:00</text>
<rect x="965" y="836" width="1" height="3" fill="#000"/>
<text x="964" y="847.65" font-size="9" fill="#000" stroke="#000" stroke-width="0.13" text-anchor="start" letter-spacing="0.2">5 Oct 12:00</text>
<rect x="1029" y="836" width="1" height="3" fill="#000"/>
<text x="1028" y="847.65" font-size="9" fill="#000" stroke="#000" stroke-width="0.13" text-anchor="start" letter-spacing="0.2">6 Oct 04:00</text>
<rect x="1093" y="836" width="1" height="3" fill="#000"/>
<text x="1092" y="847.65" font-size="9" fill="#000" stroke="#000" stroke-width="0.13" text-anchor="start" letter-spacing="0.2">6 Oct 20:00</text>
<rect x="1157" y="836" width="1" height="3" fill="#000"/>
<text x="1156" y="847.65" font-size="9" fill="#000" stroke="#000" stroke-width="0.13" text-anchor="start" letter-spacing="0.2">7 Oct 12:00</text>
<rect x="1221" y="836" width="1" height="3" fill="#000"/>
<text x="1220" y="847.65" font-size="9" fill="#000" stroke="#000" stroke-width="0.13" text-anchor="start" letter-spacing="0.2">10 Oct 04:00</text>
<rect x="1285" y="836" width="1" height="3" fill="#000"/>
<text x="1284" y="847.65" font-size="9" fill="#000" stroke="#000" stroke-width="0.13" text-anchor="start" letter-spacing="0.2">10 Oct 20:00</text>
<polygon points="8,36 15,36 11.5,39.5" fill="#000" shape-rendering="auto"/>
<text x="20" y="40.45" font-size="9" fill="#000" stroke="#000" stroke-width="0.13" text-anchor="start" textLength="204">GBPUSD-,H4&#160; 1.10552 1.10600 1.10507 1.10507</text>
<text x="9.2" y="604.25" font-size="9" fill="#000" stroke="#000" stroke-width="0.13" text-anchor="start" textLength="153.6">MACD(12,26,9) -0.004941 -0.003647</text>
<text x="9.4" y="723.65" font-size="9" fill="#000" stroke="#000" stroke-width="0.13" text-anchor="start" textLength="67.4">RSI(14) 37.7865</text>
<defs><linearGradient id="gold" x1="0" y1="0" x2="1" y2="1"><stop offset="0" stop-color="#fbe36a"/><stop offset="0.5" stop-color="#e9b92a"/><stop offset="1" stop-color="#b97c14"/></linearGradient><linearGradient id="badge" x1="0" y1="0" x2="0" y2="1"><stop offset="0" stop-color="#ec6240"/><stop offset="1" stop-color="#d61a0c"/></linearGradient><linearGradient id="blu" x1="0" y1="0" x2="0" y2="1"><stop offset="0" stop-color="#5fb4ff"/><stop offset="1" stop-color="#1268d8"/></linearGradient><radialGradient id="lens" cx="0.4" cy="0.35" r="0.7"><stop offset="0" stop-color="#ffffff"/><stop offset="1" stop-color="#bfe0fb"/></radialGradient></defs>
<g shape-rendering="auto">
<g shape-rendering="crispEdges"><rect x="2" y="2" width="1" height="21" fill="#a0a0a0"/></g>
<g transform="translate(0,0)"><path d="M12.5 5.500h7.500l3.500 3.500v9.500h-11z" fill="#fdfdfd" stroke="#767676" stroke-width="1.100"/><path d="M20 5.500v3.500h3.500" fill="#f4f4f4" stroke="#767676"/><path d="M14.300 8h2.400" stroke="#8a8a8a" stroke-width="1.400" fill="none"/><path d="M14.500 11.500h5M14.500 13.500h4M14.500 15.500h1.500" stroke="#8a8a8a" fill="none"/><path d="M20.3 11.6h3.8v3.700h3.8v3.800h-3.8v3.700h-3.8v-3.700h-3.8v-3.800h3.800z" fill="#2fd63a" stroke="#128a1a" stroke-width="1"/><path d="M21.2 12.6h1.2v3.600h-1.200zM17.400 16.200h3.800v1h-3.800z" fill="#9cf29f"/></g>
<text x="30.3" y="16.4" font-size="12.2" font-family="Liberation Sans, Noto Sans CJK SC, sans-serif" fill="#000" stroke="#000" stroke-width="0.11" textLength="36.75" lengthAdjust="spacing">新订单</text>
<path d="M84.9 6.1L94.4 13.7V15.2L87 21L79.1 16V14.6C81.5 13 83.6 9.600 84.9 6.100Z" fill="#d9b25a" stroke="#a06a0c" stroke-width="1.100" stroke-linejoin="round"/><path d="M79.1 14.600L87 19.600V21L79.100 16Z" fill="#f3dc96"/><path d="M84.9 6.100L94.400 13.700L87 19.600L79.100 14.600C81.500 13 83.600 9.600 84.900 6.100Z" fill="url(#gold)" stroke="#b07a14" stroke-width="0.700" stroke-linejoin="round"/><path d="M84.300 8.400c-.8 2-2.200 4.200-3.800 5.600" stroke="#fff4b0" stroke-width="0.900" fill="none" opacity="0.800"/>
<polygon points="109.2,6.2 112.7,7.8 112.7,15.4 109.2,14.4" fill="#0b8df0"/><polygon points="109.2,6.2 116.4,5.1 119.8,6.5 112.7,7.8" fill="#59bbff"/><rect x="112.700" y="7.700" width="7.100" height="8" fill="#16a6ff"/><path d="M109.400 6.400L112.700 7.900V15" stroke="#d6efff" stroke-width="0.600" fill="none"/><rect x="114.200" y="9.700" width="4.400" height="0.900" fill="#e8f7ff"/><rect x="113.600" y="12" width="5.400" height="0.600" fill="#7fd0ff"/><linearGradient id="cld" x1="0" y1="0" x2="0" y2="1"><stop offset="0.250" stop-color="#ffffff"/><stop offset="1" stop-color="#bccae2"/></linearGradient><path d="M109.600 20.500C106.300 20.500 106.300 16.300 109.400 16.100C109.600 13.300 113.600 12.700 115.100 14.700C116.800 13.200 120 13.900 120.200 16C123.700 15.800 124 20.500 120.600 20.500Z" fill="url(#cld)" stroke="#3d5c9c" stroke-width="0.900"/>
<linearGradient id="swp" x1="0" y1="1" x2="0.300" y2="0"><stop offset="0" stop-color="#2fa52f" stop-opacity="0.950"/><stop offset="0.550" stop-color="#8cc88c" stop-opacity="0.700"/><stop offset="1" stop-color="#c8e0c8" stop-opacity="0.350"/></linearGradient><circle cx="143" cy="13" r="8" fill="#f6f6f2"/><path d="M143 13V21A8 8 0 0 0 143 5Z" fill="url(#swp)"/><circle cx="143" cy="13" r="7.500" fill="none" stroke="#4a74d6" stroke-width="0.900" stroke-dasharray="2.200 1.200" opacity="0.750"/><circle cx="143" cy="13" r="4.700" fill="none" stroke="#4a74d6" stroke-width="0.900" stroke-dasharray="2 1" opacity="0.700"/><path d="M143 5.500A7.500 7.500 0 0 1 143 20.500" fill="none" stroke="#4f9a6a" stroke-width="0.900" opacity="0.700"/><circle cx="142.800" cy="12.700" r="2" fill="#2452c8"/><path d="M143.500 13.400V20.900" stroke="#17a017" stroke-width="1.400"/>
<linearGradient id="ylw" x1="0" y1="0" x2="1" y2="1"><stop offset="0" stop-color="#ffe95e"/><stop offset="1" stop-color="#e6b41c"/></linearGradient><polygon points="162,12.600 177.900,11.800 177.600,14.600 170.600,20.700 168.300,20.400" fill="url(#ylw)" stroke="#c8980f" stroke-width="0.700"/><ellipse cx="170" cy="9.900" rx="7.900" ry="2.700" transform="rotate(-6 170 9.900)" fill="#58b0e6" stroke="#1f7fa8" stroke-width="0.800"/><path d="M166 9.600C166 4.400 173.600 4.200 173.600 9.200C171.500 10.600 168 10.800 166 9.600Z" fill="#6cc0ee" stroke="#1f7fa8" stroke-width="0.700"/><circle cx="174.500" cy="16.700" r="4.200" fill="#e62a0a" stroke="#b4180a" stroke-width="0.500"/><rect x="173.100" y="15.300" width="2.800" height="2.800" fill="#fff"/>
<text x="182.9" y="16.4" font-size="12.2" font-family="Liberation Sans, Noto Sans CJK SC, sans-serif" fill="#000" stroke="#000" stroke-width="0.11" textLength="47" lengthAdjust="spacing">自动交易</text>
<g shape-rendering="crispEdges"><rect x="238" y="0" width="1" height="25" fill="#a0a0a0"/><rect x="239" y="0" width="1" height="25" fill="#fff"/></g>
<g shape-rendering="crispEdges"><rect x="242" y="3" width="3" height="1" fill="#9a9a9a"/><rect x="242" y="5" width="3" height="1" fill="#9a9a9a"/><rect x="242" y="7" width="3" height="1" fill="#9a9a9a"/><rect x="242" y="9" width="3" height="1" fill="#9a9a9a"/><rect x="242" y="11" width="3" height="1" fill="#9a9a9a"/><rect x="242" y="13" width="3" height="1" fill="#9a9a9a"/><rect x="242" y="15" width="3" height="1" fill="#9a9a9a"/><rect x="242" y="17" width="3" height="1" fill="#9a9a9a"/><rect x="242" y="19" width="3" height="1" fill="#9a9a9a"/><rect x="242" y="21" width="3" height="1" fill="#9a9a9a"/></g>
<g shape-rendering="crispEdges"><rect x="256" y="7" width="1" height="14" fill="#585858"/><rect x="254" y="18" width="14" height="1" fill="#585858"/><rect x="255" y="8" width="3" height="1" fill="#585858"/><rect x="266" y="17" width="1" height="3" fill="#585858"/><rect x="254" y="9" width="1" height="1" fill="#c8c8c8"/><rect x="258" y="9" width="1" height="1" fill="#c8c8c8"/><rect x="265" y="16" width="1" height="1" fill="#c8c8c8"/><rect x="265" y="20" width="1" height="1" fill="#c8c8c8"/></g>
<path d="M262.5 8.6v8.2M262.5 9.5h2.6M260 15.6h2.5" stroke="#0a8a0a" stroke-width="1.3" fill="none"/>
<g shape-rendering="crispEdges"><rect x="276" y="1" width="26" height="22" fill="#f8f8f8"/><rect x="276" y="1" width="25" height="1" fill="#a0a0a0"/><rect x="276" y="1" width="1" height="22" fill="#a0a0a0"/><rect x="277" y="22" width="25" height="1" fill="#fff"/><rect x="301" y="1" width="1" height="22" fill="#fff"/></g>
<g shape-rendering="crispEdges"><rect x="284" y="7" width="1" height="14" fill="#585858"/><rect x="282" y="18" width="14" height="1" fill="#585858"/><rect x="283" y="8" width="3" height="1" fill="#585858"/><rect x="294" y="17" width="1" height="3" fill="#585858"/><rect x="282" y="9" width="1" height="1" fill="#c8c8c8"/><rect x="286" y="9" width="1" height="1" fill="#c8c8c8"/><rect x="293" y="16" width="1" height="1" fill="#c8c8c8"/><rect x="293" y="20" width="1" height="1" fill="#c8c8c8"/></g>
<path d="M290.6 5v12.4" stroke="#0a9a0a" stroke-width="1.2"/><rect x="288.4" y="7.2" width="4.5" height="7.7" fill="#3fe24a" stroke="#0a9a0a" stroke-width="1"/>
<g shape-rendering="crispEdges"><rect x="312" y="7" width="1" height="14" fill="#585858"/><rect x="310" y="18" width="14" height="1" fill="#585858"/><rect x="311" y="8" width="3" height="1" fill="#585858"/><rect x="322" y="17" width="1" height="3" fill="#585858"/><rect x="310" y="9" width="1" height="1" fill="#c8c8c8"/><rect x="314" y="9" width="1" height="1" fill="#c8c8c8"/><rect x="321" y="16" width="1" height="1" fill="#c8c8c8"/><rect x="321" y="20" width="1" height="1" fill="#c8c8c8"/></g>
<path d="M311.2 15.8c2.6-1.2 4-5.6 6-5.6s3 3.400 5.600 4.200" fill="none" stroke="#2a9a2a" stroke-width="1.2"/>
<g shape-rendering="crispEdges"><rect x="333" y="2" width="1" height="21" fill="#a0a0a0"/></g>
<path d="M352.1 15l5.3 5.3" stroke="#c99a1a" stroke-width="3.2" stroke-linecap="round"/><path d="M352.40000000000003 14.7l5 5" stroke="#f3d860" stroke-width="1.2" stroke-linecap="round"/><circle cx="348.1" cy="11" r="5.6" fill="url(#lens)" stroke="#3b7fd3" stroke-width="1.4"/><path d="M345.1 11h6M348.1 8v6" stroke="#2f6fae" stroke-width="1.7" fill="none"/>
<path d="M380 15l5.3 5.3" stroke="#c99a1a" stroke-width="3.2" stroke-linecap="round"/><path d="M380.3 14.7l5 5" stroke="#f3d860" stroke-width="1.2" stroke-linecap="round"/><circle cx="376" cy="11" r="5.6" fill="url(#lens)" stroke="#3b7fd3" stroke-width="1.4"/><path d="M373 11h6" stroke="#2f6fae" stroke-width="1.7" fill="none"/>
<rect x="398" y="5" width="8" height="8" fill="#3fa51f"/><rect x="399.2" y="8.2" width="5.6" height="3.6" fill="#ffffff"/><rect x="400" y="9.3" width="4" height="0.9" fill="#3fa51f" opacity="0.45"/><rect x="399.2" y="6.2" width="1" height="1" fill="#fff" opacity="0.8"/>
<rect x="406" y="5" width="8" height="8" fill="#1f4fd0"/><rect x="407.2" y="8.2" width="5.6" height="3.6" fill="#ffffff"/><rect x="408" y="9.3" width="4" height="0.9" fill="#1f4fd0" opacity="0.45"/><rect x="407.2" y="6.2" width="1" height="1" fill="#fff" opacity="0.8"/>
<rect x="398" y="13" width="8" height="8" fill="#1f4fd0"/><rect x="399.2" y="16.2" width="5.6" height="3.6" fill="#ffffff"/><rect x="400" y="17.3" width="4" height="0.9" fill="#1f4fd0" opacity="0.45"/><rect x="399.2" y="14.2" width="1" height="1" fill="#fff" opacity="0.8"/>
<rect x="406" y="13" width="8" height="8" fill="#3fa51f"/><rect x="407.2" y="16.2" width="5.6" height="3.6" fill="#ffffff"/><rect x="408" y="17.3" width="4" height="0.9" fill="#3fa51f" opacity="0.45"/><rect x="407.2" y="14.2" width="1" height="1" fill="#fff" opacity="0.8"/>
<g shape-rendering="crispEdges"><rect x="423" y="2" width="1" height="21" fill="#a0a0a0"/></g>
<g shape-rendering="crispEdges"><rect x="428" y="1" width="26" height="22" fill="#f8f8f8"/><rect x="428" y="1" width="25" height="1" fill="#a0a0a0"/><rect x="428" y="1" width="1" height="22" fill="#a0a0a0"/><rect x="429" y="22" width="25" height="1" fill="#fff"/><rect x="453" y="1" width="1" height="22" fill="#fff"/></g>
<g shape-rendering="crispEdges"><rect x="436" y="7" width="1" height="14" fill="#585858"/><rect x="434" y="18" width="14" height="1" fill="#585858"/><rect x="435" y="8" width="3" height="1" fill="#585858"/><rect x="446" y="17" width="1" height="3" fill="#585858"/><rect x="434" y="9" width="1" height="1" fill="#c8c8c8"/><rect x="438" y="9" width="1" height="1" fill="#c8c8c8"/><rect x="445" y="16" width="1" height="1" fill="#c8c8c8"/><rect x="445" y="20" width="1" height="1" fill="#c8c8c8"/></g>
<polygon points="441.2,9 445.2,12.5 441.2,16" fill="#5fe05f" stroke="#0a9a0a" stroke-width="0.9"/>
<g shape-rendering="crispEdges"><rect x="456" y="1" width="26" height="22" fill="#f8f8f8"/><rect x="456" y="1" width="25" height="1" fill="#a0a0a0"/><rect x="456" y="1" width="1" height="22" fill="#a0a0a0"/><rect x="457" y="22" width="25" height="1" fill="#fff"/><rect x="481" y="1" width="1" height="22" fill="#fff"/></g>
<g shape-rendering="crispEdges"><rect x="464" y="7" width="1" height="14" fill="#585858"/><rect x="462" y="18" width="14" height="1" fill="#585858"/><rect x="463" y="8" width="3" height="1" fill="#585858"/><rect x="474" y="17" width="1" height="3" fill="#585858"/><rect x="462" y="9" width="1" height="1" fill="#c8c8c8"/><rect x="466" y="9" width="1" height="1" fill="#c8c8c8"/><rect x="473" y="16" width="1" height="1" fill="#c8c8c8"/><rect x="473" y="20" width="1" height="1" fill="#c8c8c8"/></g>
<path d="M470.5 7v10" stroke="#1a6fa8" stroke-width="1.3"/><path d="M472 12.5h4.300M474.600 10.4l-2.6 2.100l2.600 2.100" stroke="#e05a0a" stroke-width="1.200" fill="none"/>
<g shape-rendering="crispEdges"><rect x="485" y="2" width="1" height="21" fill="#a0a0a0"/></g>
<g transform="translate(483.2,0)"><path d="M12.5 5.500h7.500l3.500 3.500v9.500h-11z" fill="#fdfdfd" stroke="#767676" stroke-width="1.100"/><path d="M20 5.500v3.500h3.500" fill="#f4f4f4" stroke="#767676"/><path d="M14.300 8h2.400" stroke="#8a8a8a" stroke-width="1.400" fill="none"/><path d="M14.500 11.500h5M14.500 13.500h4M14.500 15.500h1.500" stroke="#8a8a8a" fill="none"/><path d="M20.3 11.6h3.8v3.700h3.8v3.800h-3.8v3.700h-3.8v-3.700h-3.8v-3.800h3.800z" fill="#2fd63a" stroke="#128a1a" stroke-width="1"/><path d="M21.2 12.6h1.2v3.600h-1.200zM17.400 16.200h3.800v1h-3.800z" fill="#9cf29f"/></g>
<polygon points="517,12 522.4,12 519.7,15.2" fill="#000"/>
<circle cx="541.1" cy="13" r="6.9" fill="#fdfdff" stroke="url(#blu)" stroke-width="2.5"/><circle cx="541.1" cy="13" r="8" fill="none" stroke="#0d57b8" stroke-width="0.6"/><path d="M540.8 9.2v4h3.200" fill="none" stroke="#222" stroke-width="1.2"/><path d="M541.100 7.700v.8M541.100 17.500v.8M536 13h.8M545.400 13h.8" stroke="#8a8a8a" stroke-width="0.8"/>
<polygon points="556,12 561.4,12 558.7,15.2" fill="#000"/>
<rect x="572.5" y="6.500" width="15" height="13" fill="#fff" stroke="#3c7bd4" stroke-width="1"/><rect x="573" y="7" width="14" height="2.200" fill="#6aa6ee"/><path d="M573 14.200h14" stroke="#3c7bd4" stroke-width="0.9"/><path d="M574.500 12.400h2l1.500-1.400h1.600l1.300 0.800h2l1.300-1h1.300" fill="none" stroke="#a8200a" stroke-width="1.200"/><path d="M574.800 17.200h1.600l1.300-0.800 1.400 0.800 2-1.700 1.500 0 1.800 1.700 1.200 0" fill="none" stroke="#128a12" stroke-width="1.200"/>
<polygon points="595,12 600.4,12 597.7,15.2" fill="#000"/>
<g shape-rendering="crispEdges"><rect x="606" y="0" width="1" height="25" fill="#a0a0a0"/><rect x="607" y="0" width="1" height="25" fill="#fff"/></g>
<g shape-rendering="crispEdges"><rect x="610" y="3" width="3" height="1" fill="#9a9a9a"/><rect x="610" y="5" width="3" height="1" fill="#9a9a9a"/><rect x="610" y="7" width="3" height="1" fill="#9a9a9a"/><rect x="610" y="9" width="3" height="1" fill="#9a9a9a"/><rect x="610" y="11" width="3" height="1" fill="#9a9a9a"/><rect x="610" y="13" width="3" height="1" fill="#9a9a9a"/><rect x="610" y="15" width="3" height="1" fill="#9a9a9a"/><rect x="610" y="17" width="3" height="1" fill="#9a9a9a"/><rect x="610" y="19" width="3" height="1" fill="#9a9a9a"/><rect x="610" y="21" width="3" height="1" fill="#9a9a9a"/></g>
<g shape-rendering="crispEdges"><rect x="616" y="1" width="26" height="22" fill="#f8f8f8"/><rect x="616" y="1" width="25" height="1" fill="#a0a0a0"/><rect x="616" y="1" width="1" height="22" fill="#a0a0a0"/><rect x="617" y="22" width="25" height="1" fill="#fff"/><rect x="641" y="1" width="1" height="22" fill="#fff"/></g>
<polygon points="624.2,5.800 624.2,17.200 626.900,14.700 629.200,20.200 631.200,19.300 628.900,13.900 632.400,13.600" fill="#4b4b4b"/>
<g shape-rendering="crispEdges"><rect x="649" y="13" width="6" height="1" fill="#505050"/><rect x="658" y="13" width="7" height="1" fill="#505050"/><rect x="656" y="6" width="1" height="6" fill="#505050"/><rect x="656" y="15" width="1" height="6" fill="#505050"/><rect x="656" y="13" width="1" height="1" fill="#909090"/></g>
<g shape-rendering="crispEdges"><rect x="673" y="2" width="1" height="21" fill="#a0a0a0"/></g>
<g shape-rendering="crispEdges"><rect x="690" y="7" width="1" height="13" fill="#505050"/><rect x="713" y="13" width="12" height="1" fill="#505050"/></g>
<path d="M740.600 19.900L753.100 7.500" stroke="#505050" stroke-width="1.100"/>
<path d="M766.400 14.800L774.900 6.700M771.800 20L781.300 11" stroke="#444" stroke-width="1"/><path d="M769 19l2-7M772 16.200l2.400-6.400M775 13.200l2.200-5.400M778 12.200l.7-7.200" stroke="#333" stroke-width="1.200" fill="none"/><path d="M768.600 16.600l2.400.8M771.800 13.200l2.400.800M775 10.200l2.200.800M777.400 8.200l2.200.600" stroke="#333" stroke-width="0.900" fill="none"/>
<g shape-rendering="crispEdges"><rect x="778" y="17" width="1" height="5" fill="#2a2a2a"/><rect x="779" y="17" width="3" height="1" fill="#2a2a2a"/><rect x="779" y="19" width="2" height="1" fill="#2a2a2a"/><rect x="779" y="21" width="3" height="1" fill="#2a2a2a"/></g><rect x="779" y="17" width="0.300" height="5" fill="#2a2a2a"/>
<g shape-rendering="crispEdges"><rect x="796" y="6" width="1" height="1" fill="#555"/><rect x="798" y="6" width="1" height="1" fill="#555"/><rect x="800" y="6" width="1" height="1" fill="#555"/><rect x="802" y="6" width="1" height="1" fill="#555"/><rect x="804" y="6" width="1" height="1" fill="#555"/><rect x="806" y="6" width="1" height="1" fill="#555"/><rect x="808" y="6" width="1" height="1" fill="#555"/><rect x="796" y="9" width="1" height="1" fill="#555"/><rect x="798" y="9" width="1" height="1" fill="#555"/><rect x="800" y="9" width="1" height="1" fill="#555"/><rect x="802" y="9" width="1" height="1" fill="#555"/><rect x="804" y="9" width="1" height="1" fill="#555"/><rect x="806" y="9" width="1" height="1" fill="#555"/><rect x="808" y="9" width="1" height="1" fill="#555"/><rect x="796" y="13" width="1" height="1" fill="#555"/><rect x="798" y="13" width="1" height="1" fill="#555"/><rect x="800" y="13" width="1" height="1" fill="#555"/><rect x="802" y="13" width="1" height="1" fill="#555"/><rect x="804" y="13" width="1" height="1" fill="#555"/><rect x="806" y="13" width="1" height="1" fill="#555"/><rect x="808" y="13" width="1" height="1" fill="#555"/><rect x="796" y="17" width="1" height="1" fill="#555"/><rect x="798" y="17" width="1" height="1" fill="#555"/><rect x="800" y="17" width="1" height="1" fill="#555"/><rect x="802" y="17" width="1" height="1" fill="#555"/><rect x="804" y="17" width="1" height="1" fill="#555"/></g>
<g shape-rendering="crispEdges"><rect x="806" y="17" width="1" height="5" fill="#2a2a2a"/><rect x="807" y="17" width="3" height="1" fill="#2a2a2a"/><rect x="807" y="19" width="2" height="1" fill="#2a2a2a"/></g><rect x="807" y="17" width="0.300" height="5" fill="#2a2a2a"/>
<text x="830.6" y="17.9" font-size="12.3" fill="#555" stroke="#555" stroke-width="0.45" text-anchor="middle">A</text>
<g shape-rendering="crispEdges"><rect x="853" y="7" width="1" height="1" fill="#555"/><rect x="853" y="19" width="1" height="1" fill="#555"/><rect x="855" y="7" width="1" height="1" fill="#555"/><rect x="855" y="19" width="1" height="1" fill="#555"/><rect x="857" y="7" width="1" height="1" fill="#555"/><rect x="857" y="19" width="1" height="1" fill="#555"/><rect x="859" y="7" width="1" height="1" fill="#555"/><rect x="859" y="19" width="1" height="1" fill="#555"/><rect x="861" y="7" width="1" height="1" fill="#555"/><rect x="861" y="19" width="1" height="1" fill="#555"/><rect x="863" y="7" width="1" height="1" fill="#555"/><rect x="863" y="19" width="1" height="1" fill="#555"/><rect x="853" y="7" width="1" height="1" fill="#555"/><rect x="864" y="7" width="1" height="1" fill="#555"/><rect x="853" y="9" width="1" height="1" fill="#555"/><rect x="864" y="9" width="1" height="1" fill="#555"/><rect x="853" y="11" width="1" height="1" fill="#555"/><rect x="864" y="11" width="1" height="1" fill="#555"/><rect x="853" y="13" width="1" height="1" fill="#555"/><rect x="864" y="13" width="1" height="1" fill="#555"/><rect x="853" y="15" width="1" height="1" fill="#555"/><rect x="864" y="15" width="1" height="1" fill="#555"/><rect x="853" y="17" width="1" height="1" fill="#555"/><rect x="864" y="17" width="1" height="1" fill="#555"/><rect x="853" y="19" width="1" height="1" fill="#555"/><rect x="864" y="19" width="1" height="1" fill="#555"/><rect x="852" y="6" width="2" height="1" fill="#444"/></g>
<g shape-rendering="crispEdges"><rect x="855" y="10" width="8" height="1" fill="#505050"/><rect x="858" y="11" width="2" height="7" fill="#505050"/></g>
<polygon points="883.500,7 887.300,10.400 883.500,11.600 880,10.400" fill="#4a4a4a"/><polygon points="890.500,20 894.300,16.400 890.500,15.200 887,16.400" fill="#4a4a4a"/><path d="M882.500 14.800l2 1.800l4.600-5.600" fill="none" stroke="#4a4a4a" stroke-width="1.200"/>
<polygon points="900.8,12 906.1999999999999,12 903.5,15.2" fill="#000"/>
<g shape-rendering="crispEdges"><rect x="912" y="0" width="1" height="25" fill="#a0a0a0"/><rect x="913" y="0" width="1" height="25" fill="#fff"/></g>
<g shape-rendering="crispEdges"><rect x="916" y="3" width="3" height="1" fill="#9a9a9a"/><rect x="916" y="5" width="3" height="1" fill="#9a9a9a"/><rect x="916" y="7" width="3" height="1" fill="#9a9a9a"/><rect x="916" y="9" width="3" height="1" fill="#9a9a9a"/><rect x="916" y="11" width="3" height="1" fill="#9a9a9a"/><rect x="916" y="13" width="3" height="1" fill="#9a9a9a"/><rect x="916" y="15" width="3" height="1" fill="#9a9a9a"/><rect x="916" y="17" width="3" height="1" fill="#9a9a9a"/><rect x="916" y="19" width="3" height="1" fill="#9a9a9a"/><rect x="916" y="21" width="3" height="1" fill="#9a9a9a"/></g>
<g shape-rendering="crispEdges"><rect x="1062" y="1" width="26" height="22" fill="#f8f8f8"/><rect x="1062" y="1" width="25" height="1" fill="#a0a0a0"/><rect x="1062" y="1" width="1" height="22" fill="#a0a0a0"/><rect x="1063" y="22" width="25" height="1" fill="#fff"/><rect x="1087" y="1" width="1" height="22" fill="#fff"/></g>
<text x="927.7" y="16.800" font-size="9.300" fill="#3a3a3a" textLength="12.4" lengthAdjust="spacingAndGlyphs">M1</text>
<text x="955.8" y="16.800" font-size="9.300" fill="#3a3a3a" textLength="12.4" lengthAdjust="spacingAndGlyphs">M5</text>
<text x="981.7" y="16.800" font-size="9.300" fill="#3a3a3a" textLength="17.4" lengthAdjust="spacingAndGlyphs">M15</text>
<text x="1009.8" y="16.800" font-size="9.300" fill="#3a3a3a" textLength="17.4" lengthAdjust="spacingAndGlyphs">M30</text>
<text x="1040.7" y="16.800" font-size="9.300" fill="#3a3a3a" textLength="11.5" lengthAdjust="spacingAndGlyphs">H1</text>
<text x="1067.9" y="16.800" font-size="9.300" fill="#3a3a3a" textLength="12" lengthAdjust="spacingAndGlyphs">H4</text>
<text x="1096.8" y="16.800" font-size="9.300" fill="#3a3a3a" textLength="11.3" lengthAdjust="spacingAndGlyphs">D1</text>
<text x="1124.1" y="16.800" font-size="9.300" fill="#3a3a3a" textLength="14.2" lengthAdjust="spacingAndGlyphs">W1</text>
<text x="1150.7" y="16.800" font-size="9.300" fill="#3a3a3a" textLength="14.5" lengthAdjust="spacingAndGlyphs">MN</text>
<g shape-rendering="crispEdges"><rect x="1173" y="0" width="1" height="25" fill="#a0a0a0"/><rect x="1174" y="0" width="1" height="25" fill="#fff"/></g>
<path d="M1640.900 13.100l-4.800 4.500" stroke="#1f52c4" stroke-width="2.700" stroke-linecap="round"/><circle cx="1643.600" cy="10.400" r="3.900" fill="#f6f9ff" stroke="#2b62d4" stroke-width="1.300"/>
<path d="M1660.600 15.200c0-6 10.600-6 10.600 0c0 3.200-3.200 4.400-6.400 4.400l-1.800 2.200l-.2-2.400c-1.400-.6-2.200-2-2.200-4.200z" fill="#e6e6ee" stroke="#b4b4b8" stroke-width="0.900"/><circle cx="1674.500" cy="10.400" r="8.200" fill="url(#badge)"/><text x="1674.3" y="15.5" font-size="13" font-weight="bold" fill="#fff" text-anchor="middle">1</text>
</g>
</svg>
</body></html>
